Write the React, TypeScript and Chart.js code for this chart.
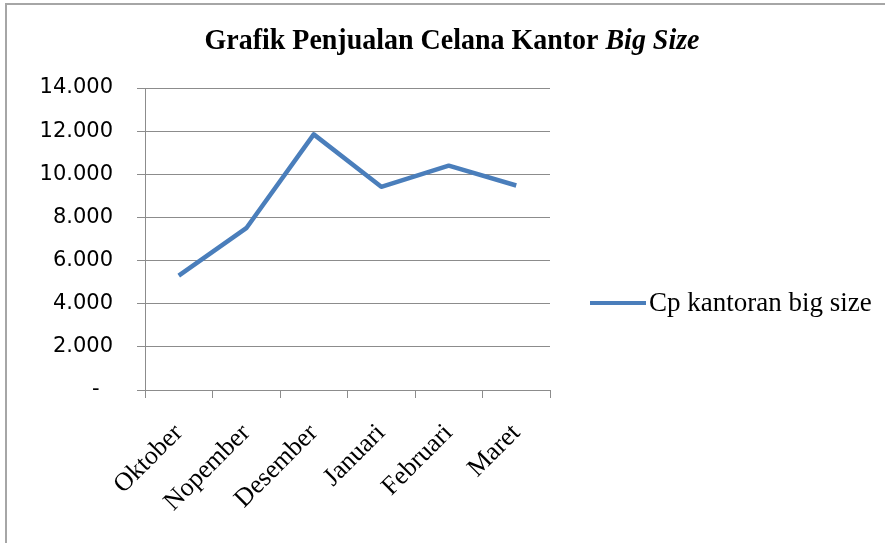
import React, { useEffect, useRef } from "react";
import { Chart, registerables } from "chart.js";

Chart.register(...registerables);

const months = ["Oktober", "Nopember", "Desember", "Januari", "Februari", "Maret"];
const sales = [5300, 7500, 11850, 9420, 10400, 9480];
const seriesName = "Cp kantoran big size";
const titleMain = "Grafik Penjualan Celana Kantor ";
const titleItalic = "Big Size";
const yMax = 14000;
const yStep = 2000;

const LINE_COLOR = "#4a7ebb";
const GRID_COLOR = "#8c8c8c";

// accounting-style labels: zero shows as a dash padded from the right
const fmt = (v: number) =>
  v === 0 ? "-  " : v.toLocaleString("de-DE", { maximumFractionDigits: 0 });

// frame, title (mixed bold / bold italic) and a right-hand legend
const decorations = {
  id: "decorations",
  beforeDraw(chart: Chart) {
    const ctx = chart.ctx;
    ctx.save();
    ctx.fillStyle = "#ffffff";
    ctx.fillRect(0, 0, chart.width, chart.height);
    ctx.strokeStyle = "#a6a6a6";
    ctx.lineWidth = 2;
    ctx.beginPath();
    ctx.moveTo(5, 4);
    ctx.lineTo(chart.width, 4);
    ctx.moveTo(6, 3);
    ctx.lineTo(6, chart.height);
    ctx.stroke();
    ctx.restore();
  },
  afterDraw(chart: Chart) {
    const ctx = chart.ctx;
    ctx.save();
    // title
    const fontMain = "bold 29px 'Liberation Serif', 'Times New Roman', serif";
    const fontIt = "italic bold 29px 'Liberation Serif', 'Times New Roman', serif";
    ctx.font = fontMain;
    const w1 = ctx.measureText(titleMain).width;
    ctx.font = fontIt;
    const w2 = ctx.measureText(titleItalic).width;
    const total = w1 + w2;
    const targetW = 495;
    const sx = targetW / total;
    const cx = 452;
    ctx.translate(cx - targetW / 2, 49);
    ctx.scale(sx, 1);
    ctx.fillStyle = "#000";
    ctx.textBaseline = "alphabetic";
    ctx.textAlign = "left";
    ctx.font = fontMain;
    ctx.fillText(titleMain, 0, 0);
    ctx.font = fontIt;
    ctx.fillText(titleItalic, w1, 0);
    ctx.restore();

    // legend
    ctx.save();
    const ly = 303;
    ctx.strokeStyle = LINE_COLOR;
    ctx.lineWidth = 4;
    ctx.beginPath();
    ctx.moveTo(590, ly);
    ctx.lineTo(646, ly);
    ctx.stroke();
    ctx.fillStyle = "#000";
    ctx.font = "27px 'Liberation Serif', 'Times New Roman', serif";
    ctx.textBaseline = "middle";
    ctx.textAlign = "left";
    ctx.fillText(seriesName, 649, ly + 1);
    ctx.restore();
  },
};

export default function App() {
  const ref = useRef<HTMLCanvasElement | null>(null);

  useEffect(() => {
    document.body.style.margin = "0";
    const canvas = ref.current;
    if (!canvas) return;
    const chart = new Chart(canvas, {
      type: "line",
      data: {
        labels: months,
        datasets: [
          {
            label: seriesName,
            data: sales,
            borderColor: LINE_COLOR,
            borderWidth: 4.5,
            pointRadius: 0,
            tension: 0,
            fill: false,
            borderJoinStyle: "round",
            borderCapStyle: "butt",
          },
        ],
      },
      options: {
        responsive: false,
        animation: false,
        layout: { padding: { left: 0, right: 335, top: 88, bottom: 0 } },
        plugins: {
          legend: { display: false },
          title: { display: false },
          tooltip: { enabled: false },
        },
        scales: {
          x: {
            offset: true,
            grid: {
              offset: true,
              drawOnChartArea: false,
              drawTicks: true,
              tickLength: 8,
              color: GRID_COLOR,
            },
            border: { color: GRID_COLOR, width: 1 },
            ticks: {
              maxRotation: 45,
              minRotation: 45,
              autoSkip: false,
              padding: 20,
              color: "#000",
              font: { family: "'Liberation Serif', 'Times New Roman', serif", size: 26 },
            },
            afterFit(scale: any) {
              scale.height = 153;
            },
          },
          y: {
            min: 0,
            max: yMax,
            grid: {
              color: GRID_COLOR,
              tickLength: 8,
              drawTicks: true,
            },
            border: { color: GRID_COLOR, width: 1 },
            ticks: {
              stepSize: yStep,
              padding: 24,
              color: "#000",
              font: { family: "'DejaVu Sans', sans-serif", size: 21 },
              callback: (v: any) => fmt(Number(v)),
            },
            afterFit(scale: any) {
              scale.width = 145;
            },
          },
        },
      },
      plugins: [decorations],
    });
    return () => chart.destroy();
  }, []);

  return <canvas ref={ref} width={885} height={543} style={{ display: "block" }} />;
}
